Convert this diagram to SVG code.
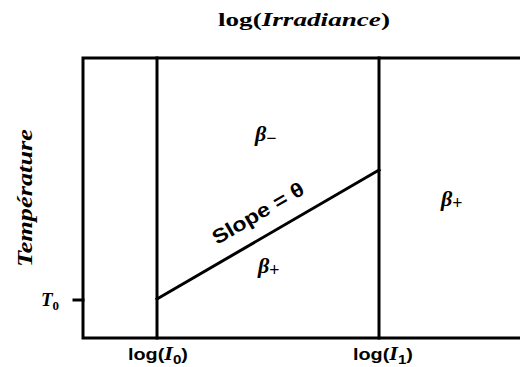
<svg xmlns="http://www.w3.org/2000/svg" width="520" height="367" viewBox="0 0 520 367">
<style>
.ln{stroke:#000;stroke-width:3;fill:none;stroke-linecap:square}
.serif{font-family:"Liberation Serif","DejaVu Serif",serif;font-weight:bold;fill:#000}
.sans{font-family:"Liberation Sans","DejaVu Sans",sans-serif;font-weight:bold;fill:#000}
.it{font-style:italic}
</style>
<rect width="520" height="367" fill="#fff"/>
<g id="frame">
<path class="ln" d="M83 58 H522 M83 58 V338 H522"/>
<path class="ln" d="M74 300 H83"/>
</g>
<g id="connectors">
<line class="ln" x1="157" y1="58" x2="157" y2="338"/>
<line class="ln" x1="379" y1="58" x2="379" y2="338"/>
<line class="ln" x1="157" y1="299" x2="379" y2="170"/>
</g>
<g id="title"><text class="serif" x="218" y="26" font-size="19" textLength="172" lengthAdjust="spacingAndGlyphs">log(<tspan class="it">Irradiance</tspan>)</text></g>
<g id="ylabel"><text class="serif it" transform="translate(32,198) rotate(-90)" text-anchor="middle" font-size="20" textLength="138" lengthAdjust="spacingAndGlyphs">Température</text></g>
<g id="t0"><text class="serif it" x="41" y="306" font-size="19">T<tspan font-size="13" dy="4" font-style="normal">0</tspan></text></g>
<g id="xl0"><text class="sans" x="128" y="360" font-size="17" textLength="60" lengthAdjust="spacingAndGlyphs">log(<tspan class="serif it" font-size="19">I</tspan><tspan font-size="13" dy="4">0</tspan><tspan dy="-4">)</tspan></text></g>
<g id="xl1"><text class="sans" x="353" y="360" font-size="17" textLength="60" lengthAdjust="spacingAndGlyphs">log(<tspan class="serif it" font-size="19">I</tspan><tspan font-size="13" dy="4">1</tspan><tspan dy="-4">)</tspan></text></g>
<g id="bminus"><text class="serif it" x="255" y="141" font-size="22">β<tspan font-size="18" dy="3" font-style="normal">−</tspan></text></g>
<g id="bplus1"><text class="serif it" x="258" y="273" font-size="22">β<tspan font-size="18" dy="3" font-style="normal">+</tspan></text></g>
<g id="bplus2"><text class="serif it" x="441" y="206" font-size="22">β<tspan font-size="18" dy="3" font-style="normal">+</tspan></text></g>
<g id="slope"><text class="sans" transform="translate(217,245) rotate(-30.2)" font-size="20" textLength="103" lengthAdjust="spacingAndGlyphs">Slope = θ</text></g>
</svg>
